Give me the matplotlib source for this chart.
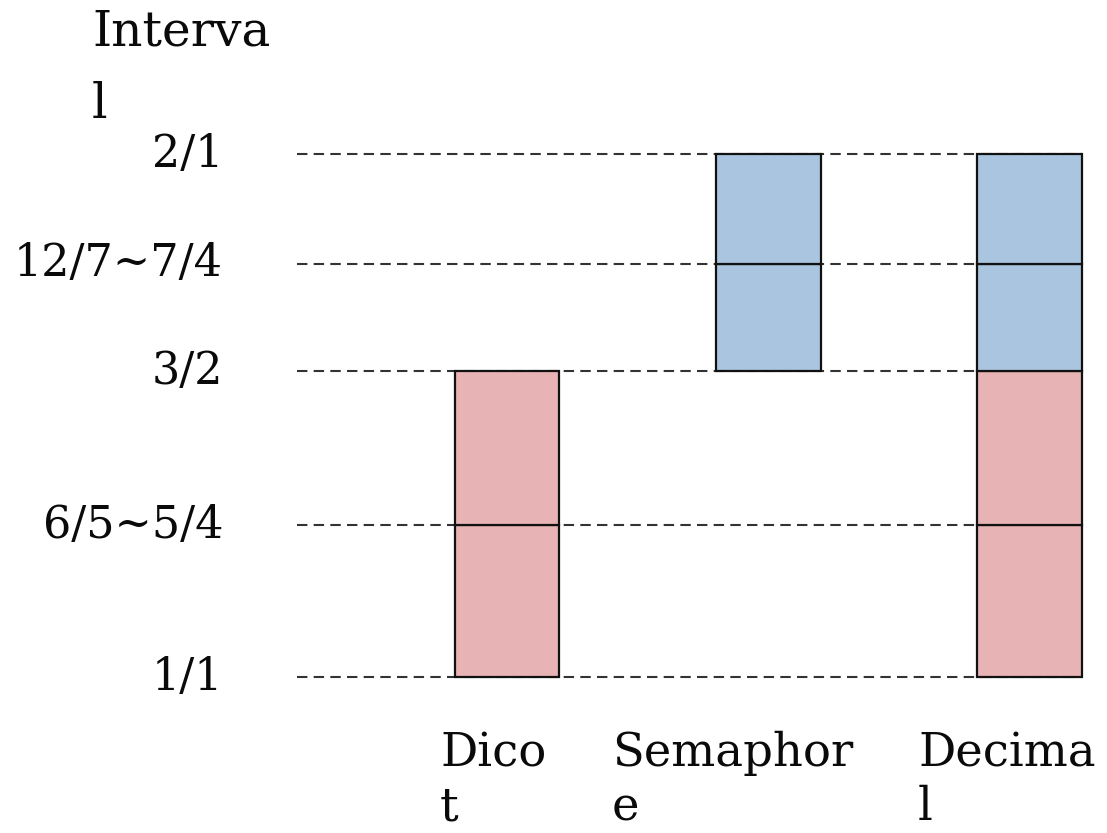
import matplotlib.pyplot as plt

## DATA

interval_labels = ['1/1', '6/5~5/4', '3/2', '12/7~7/4', '2/1']
interval_pos = [0.0, 0.29, 0.585, 0.79, 1.0]  # log2 of the ratio

categories = ['Dico\nt', 'Semaphor\ne', 'Decima\nl']
# which interval levels each stacked bar runs through, per colour
red_levels = [[0, 1, 2], [], [0, 1, 2]]
blue_levels = [[], [2, 3, 4], [2, 3, 4]]

red = '#e8b3b4'
blue = '#a9c5e0'

## PLOT

W, H = 1107, 833
fig = plt.figure(figsize=(W / 100, H / 100), dpi=100)
plt.rcParams['font.family'] = ['DejaVu Serif']

# axes box in pixels: left 297, right 1082, top 154, bottom 677
ax = fig.add_axes([297 / W, 1 - 677 / H, (1082 - 297) / W, (677 - 154) / H])
ax.set_xlim(-0.803, 2.2)
ax.set_ylim(0, 1)
ax.axis('off')

for y in interval_pos:
    ax.plot([-0.803, 2.2], [y, y], color='#333333', lw=1.5,
            linestyle=(0, (5, 3)), zorder=1, clip_on=False)

bar_w = 0.4
for i in range(len(categories)):
    for levels, col in [(red_levels[i], red), (blue_levels[i], blue)]:
        for a, b in zip(levels[:-1], levels[1:]):
            y0, y1 = interval_pos[a], interval_pos[b]
            ax.bar(i, y1 - y0, bottom=y0, width=bar_w, color=col,
                   edgecolor='#111111', linewidth=1.6, zorder=2, clip_on=False)

# y labels, right-aligned left of the dashed lines
for lab, y in zip(interval_labels, interval_pos):
    ax.text(-0.803 - 74 / 261.5, y, lab, ha='right', va='center',
            fontsize=32, color='#0a0a0a')

fig.text(92 / W, 1 - 8 / H, 'Interva\nl', ha='left', va='top',
         fontsize=35, color='#0a0a0a', linespacing=1.7)

label_left = [440, 612, 918]
for lab, x in zip(categories, label_left):
    fig.text(x / W, 1 - 731 / H, lab, ha='left', va='top',
             fontsize=33.5, color='#0a0a0a', linespacing=1.25)

fig.savefig('out.png', dpi=100, facecolor='white')
